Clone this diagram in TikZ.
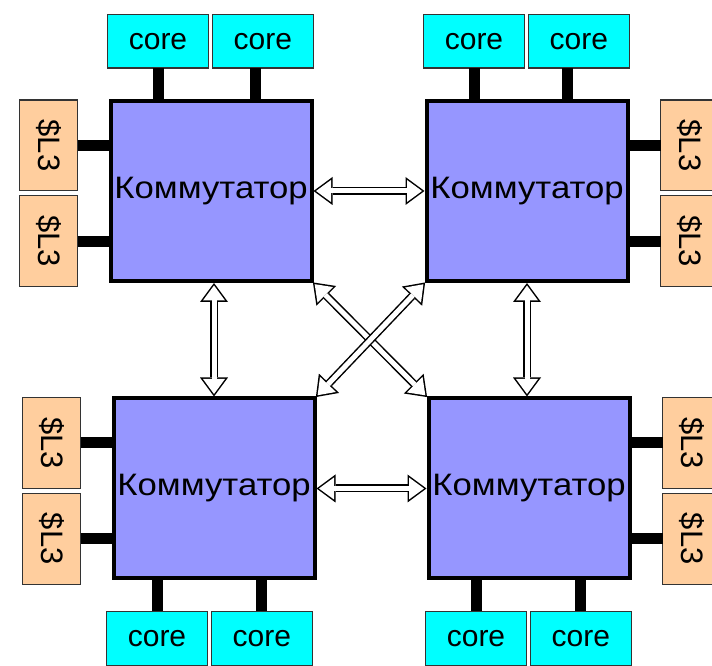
\documentclass[tikz,border=0pt]{standalone}
\usepackage{fontspec}
\setmainfont{Liberation Sans}
\usepackage{graphicx}
\usepackage{tikz}
\usetikzlibrary{positioning,arrows.meta}

\definecolor{swblue}{RGB}{150,150,255}
\definecolor{corecyan}{RGB}{0,255,255}
\definecolor{cachepeach}{RGB}{255,206,158}

\newcommand{\Lthree}{\rotatebox{-90}{\$L3}}
\newcommand{\Sw}{\scalebox{1.12}[1]{Коммутатор}}

\begin{document}
\begin{tikzpicture}[x=1pt, y=1pt, outer sep=0pt, node distance=33pt,
    bus/.style={line width=11pt},
    link/.style={draw=white, line width=5pt, shorten <=4.5pt, shorten >=4.5pt,
      {Triangle[width=22pt,length=15pt,line width=0pt]}-{Triangle[width=22pt,length=15pt,line width=0pt]},
      preaction={draw=black, line width=8pt, shorten <=2pt, shorten >=2pt,
        {Triangle[width=28pt,length=19pt,line width=0pt]}-{Triangle[width=28pt,length=19pt,line width=0pt]}}}]
  \tikzstyle{switch}=[draw=black, line width=4pt, fill=swblue, inner sep=0pt,
    minimum width=201pt, minimum height=180pt, font=\fontsize{31}{36}\selectfont]
  \tikzstyle{core}=[draw=black!80, line width=1.2pt, fill=corecyan, inner sep=0pt,
    minimum width=100.8pt, minimum height=53.8pt, font=\fontsize{30}{36}\selectfont]
  \tikzstyle{cache}=[draw=black!80, line width=1.2pt, fill=cachepeach, inner sep=0pt,
    minimum width=57.8pt, minimum height=90.8pt, font=\fontsize{31}{36}\selectfont]

  \useasboundingbox (0,0) rectangle (712,666);

  \node[switch] (sw1) at (211,475) {\Sw};
  \node[switch] (sw2) at (527,475) {\Sw};
  \node[switch] (sw3) at (214,177.5) {\Sw};
  \node[switch] (sw4) at (529,177.5) {\Sw};

  \node[core, above=of sw1.north, xshift=-53pt] (c1a) {core};
  \node[core, right=4pt of c1a] (c1b) {core};
  \node[core, above=of sw2.north, xshift=-53pt] (c2a) {core};
  \node[core, right=4pt of c2a] (c2b) {core};
  \node[core, below=of sw3.south, xshift=-57pt] (c3a) {core};
  \node[core, right=4pt of c3a] (c3b) {core};
  \node[core, below=of sw4.south, xshift=-53pt] (c4a) {core};
  \node[core, right=4pt of c4a] (c4b) {core};

  \node[cache, left=of sw1.west, yshift=45.5pt] (m1a) {\Lthree};
  \node[cache, below=5pt of m1a] (m1b) {\Lthree};
  \node[cache, right=of sw2.east, yshift=45.5pt] (m2a) {\Lthree};
  \node[cache, below=5pt of m2a] (m2b) {\Lthree};
  \node[cache, left=of sw3.west, yshift=45.5pt] (m3a) {\Lthree};
  \node[cache, below=5pt of m3a] (m3b) {\Lthree};
  \node[cache, right=of sw4.east, yshift=45.5pt] (m4a) {\Lthree};
  \node[cache, below=5pt of m4a] (m4b) {\Lthree};

  \draw[bus] (c1a.south) -- (c1a.south |- sw1.north);
  \draw[bus] ([xshift=-7pt]c1b.south) -- ([xshift=-7pt]c1b.south |- sw1.north);
  \draw[bus] (c2a.south) -- (c2a.south |- sw2.north);
  \draw[bus] ([xshift=-11pt]c2b.south) -- ([xshift=-11pt]c2b.south |- sw2.north);
  \draw[bus] (c3a.north) -- (c3a.north |- sw3.south);
  \draw[bus] (c3b.north) -- (c3b.north |- sw3.south);
  \draw[bus] (c4a.north) -- (c4a.north |- sw4.south);
  \draw[bus] (c4b.north) -- (c4b.north |- sw4.south);

  \draw[bus] (m1a.east) -- (m1a.east -| sw1.west);
  \draw[bus] (m1b.east) -- (m1b.east -| sw1.west);
  \draw[bus] (m2a.west) -- (m2a.west -| sw2.east);
  \draw[bus] (m2b.west) -- (m2b.west -| sw2.east);
  \draw[bus] (m3a.east) -- (m3a.east -| sw3.west);
  \draw[bus] (m3b.east) -- (m3b.east -| sw3.west);
  \draw[bus] (m4a.west) -- (m4a.west -| sw4.east);
  \draw[bus] (m4b.west) -- (m4b.west -| sw4.east);

  \draw[link] (sw1.east) -- (sw2.west);
  \draw[link] (sw3.east) -- (sw4.west);
  \draw[link] (sw1.south -| sw3.north) -- (sw3.north);
  \draw[link] (sw2.south) -- (sw2.south |- sw4.north);
  \draw[link] (sw1.south east) -- (sw4.north west);
  \draw[link] (sw2.south west) -- (sw3.north east);
\end{tikzpicture}
\end{document}
